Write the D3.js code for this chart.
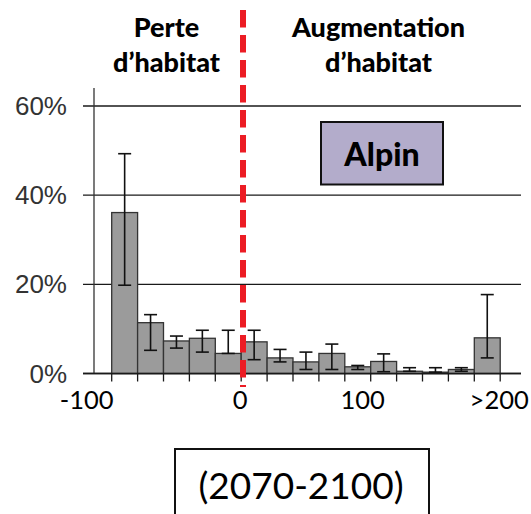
<!DOCTYPE html>
<html>
<head>
<meta charset="utf-8">
<script src="https://cdn.jsdelivr.net/npm/d3@7"></script>
<style>
  html, body { margin: 0; padding: 0; background: #fff; }
  svg { display: block; }
</style>
</head>
<body>
<svg id="chart" width="531" height="514"></svg>
<script>
// Habitat change bins (% change), lower edge of each 20-point bin
const binStarts = [-100, -80, -60, -40, -20, 0, 20, 40, 60, 80, 100, 120, 140, 160, 180];
// Share of species per bin (%)
const shares = [36.1, 11.4, 7.3, 7.9, 4.5, 7.1, 3.5, 2.6, 4.5, 1.5, 2.7, 0.5, 0.3, 0.9, 8.0];
// Error bar bounds (%)
const errHigh = [49.3, 13.2, 8.4, 9.7, 9.7, 9.7, 5.4, 4.8, 6.6, 1.8, 4.4, 1.3, 1.3, 1.3, 17.7];
const errLow  = [19.8, 5.2, 5.7, 4.8, 4.5, 3.1, 2.6, 0.9, 0.9, 0.9, 0.4, 0.5, 0.3, 0.5, 3.5];
// Axis labels
const yTicks = [0, 20, 40, 60];
const xLabels = [
  { v: -100, text: "-100" },
  { v: 0, text: "0" },
  { v: 100, text: "100" },
  { v: 200, text: ">200" }
];
const binWidth = 20;

const svg = d3.select("#chart");

const x = d3.scaleLinear().domain([-100, 200]).range([111.7, 500.2]);
const y = d3.scaleLinear().domain([0, 60]).range([373.5, 106]);

const axisLeft = 94;
const gridLeft = 83;
const gridRight = 521;

// Horizontal gridlines (with short ticks left of the axis)
svg.append("g").selectAll("line")
  .data(yTicks)
  .join("line")
  .attr("x1", gridLeft).attr("x2", gridRight)
  .attr("y1", d => y(d)).attr("y2", d => y(d))
  .attr("stroke", "#1a1a1a").attr("stroke-width", 1.3);

// Y axis line
svg.append("line")
  .attr("x1", axisLeft).attr("x2", axisLeft)
  .attr("y1", 88).attr("y2", y(0))
  .attr("stroke", "#333").attr("stroke-width", 1.3);

// Y tick labels
svg.append("g").selectAll("text")
  .data(yTicks)
  .join("text")
  .attr("x", 67).attr("y", d => y(d))
  .attr("dy", "0.35em")
  .attr("text-anchor", "end")
  .attr("font-family", "Liberation Sans, Arial, sans-serif")
  .attr("font-size", 26)
  .attr("fill", "#333")
  .text(d => d + "%");

// Bars
const bins = binStarts.map((b, i) => ({ b, v: shares[i], hi: errHigh[i], lo: errLow[i] }));

svg.append("g").selectAll("rect")
  .data(bins)
  .join("rect")
  .attr("x", d => x(d.b))
  .attr("width", d => x(d.b + binWidth) - x(d.b))
  .attr("y", d => y(d.v))
  .attr("height", d => y(0) - y(d.v))
  .attr("fill", "#9b9b9b")
  .attr("stroke", "#333")
  .attr("stroke-width", 1.3);

// Error bars
const capHalf = 6.5;
const eb = svg.append("g").attr("stroke", "#111").attr("stroke-width", 1.6);
bins.forEach(d => {
  const cx = (x(d.b) + x(d.b + binWidth)) / 2;
  eb.append("line").attr("x1", cx).attr("x2", cx).attr("y1", y(d.hi)).attr("y2", y(d.lo));
  eb.append("line").attr("x1", cx - capHalf).attr("x2", cx + capHalf).attr("y1", y(d.hi)).attr("y2", y(d.hi));
  eb.append("line").attr("x1", cx - capHalf).attr("x2", cx + capHalf).attr("y1", y(d.lo)).attr("y2", y(d.lo));
});

// X baseline and bin ticks
svg.append("line")
  .attr("x1", gridLeft).attr("x2", gridRight)
  .attr("y1", y(0)).attr("y2", y(0))
  .attr("stroke", "#1a1a1a").attr("stroke-width", 1.5);

const tickVals = binStarts.concat([200]);
svg.append("g").selectAll("line")
  .data(tickVals)
  .join("line")
  .attr("x1", d => x(d)).attr("x2", d => x(d))
  .attr("y1", y(0)).attr("y2", y(0) + 8)
  .attr("stroke", "#1a1a1a").attr("stroke-width", 1.3);

// X labels
const xLabelShift = { "-100": -25, "0": -1, "100": -8, "200": -1 };
svg.append("g").selectAll("text")
  .data(xLabels)
  .join("text")
  .attr("x", d => x(d.v) + xLabelShift[d.v])
  .attr("y", 409)
  .attr("text-anchor", "middle")
  .attr("font-family", "Lato, sans-serif")
  .attr("font-size", 25.5)
  .attr("fill", "#000")
  .text(d => d.text);

// Zero-change divider
svg.append("line")
  .attr("x1", x(0) + 1.8).attr("x2", x(0) + 1.8)
  .attr("y1", 10).attr("y2", 387)
  .attr("stroke", "#ec1c24").attr("stroke-width", 6)
  .attr("stroke-dasharray", "17.5 7.5");

// Headers
const header = svg.append("g")
  .attr("font-family", "Lato, sans-serif")
  .attr("font-weight", 900)
  .attr("font-size", 27)
  .attr("text-anchor", "middle")
  .attr("fill", "#000");
header.append("text").attr("x", 166.5).attr("y", 36.7).text("Perte");
header.append("text").attr("x", 166.5).attr("y", 71.7).text("d’habitat");
header.append("text").attr("x", 378.5).attr("y", 36.7).text("Augmentation");
header.append("text").attr("x", 378.5).attr("y", 71.7).text("d’habitat");

// Region label box
svg.append("rect")
  .attr("x", 321).attr("y", 122)
  .attr("width", 122).attr("height", 62.5)
  .attr("fill", "#b3accb")
  .attr("stroke", "#111").attr("stroke-width", 2);
svg.append("text")
  .attr("x", 382).attr("y", 165.5)
  .attr("text-anchor", "middle")
  .attr("font-family", "Lato, sans-serif")
  .attr("font-weight", 900)
  .attr("font-size", 32)
  .attr("fill", "#000")
  .text("Alpin");

// Period box
svg.append("rect")
  .attr("x", 175).attr("y", 449)
  .attr("width", 254).attr("height", 80)
  .attr("fill", "#fff")
  .attr("stroke", "#111").attr("stroke-width", 2);
svg.append("text")
  .attr("x", 301).attr("y", 499)
  .attr("text-anchor", "middle")
  .attr("font-family", "Lato, sans-serif")
  .attr("font-size", 37)
  .attr("fill", "#000")
  .text("(2070-2100)");
</script>
</body>
</html>
